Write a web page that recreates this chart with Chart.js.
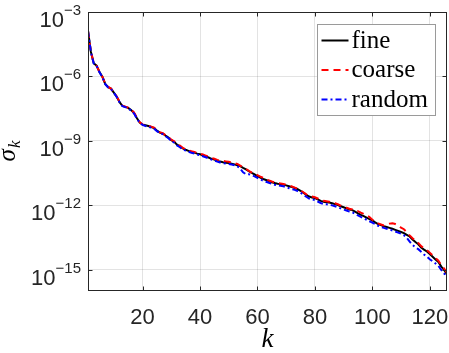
<!DOCTYPE html>
<html>
<head>
    <title>Singular values</title>
    <script src="https://cdn.jsdelivr.net/npm/chart.js"></script>
    <style>
        html, body { margin: 0; padding: 0; background: #fff; }
        canvas { display: block; }
    </style>
</head>
<body>
<canvas id="svChart" width="449" height="353"></canvas>

<script>
    // k = 1..126, values stored as log10(sigma_k)
    const kValues = [];
    for (let k = 1; k <= 126; k++) kValues.push(k);

    const fineLog = [
        -3.88, -4.85, -5.39, -5.50, -5.80, -6.02, -6.35, -6.50, -6.57, -6.76,
        -6.95, -7.20, -7.38, -7.42, -7.47, -7.57, -7.70, -7.94, -8.15, -8.25,
        -8.28, -8.31, -8.36, -8.41, -8.52, -8.62, -8.66, -8.76, -8.85, -8.97,
        -9.05, -9.18, -9.26, -9.36, -9.42, -9.47, -9.52, -9.55, -9.60, -9.63,
        -9.68, -9.73, -9.78, -9.84, -9.88, -9.93, -9.97, -10.00, -10.02, -10.04,
        -10.07, -10.10, -10.14, -10.18, -10.26, -10.33, -10.42, -10.50, -10.57, -10.65,
        -10.72, -10.78, -10.83, -10.88, -10.93, -10.97, -11.00, -11.02, -11.04, -11.08,
        -11.12, -11.16, -11.20, -11.26, -11.33, -11.42, -11.52, -11.60, -11.64, -11.67,
        -11.73, -11.80, -11.84, -11.86, -11.88, -11.91, -11.95, -12.00, -12.05, -12.10,
        -12.15, -12.20, -12.23, -12.30, -12.38, -12.45, -12.51, -12.58, -12.65, -12.71,
        -12.80, -12.88, -12.93, -12.98, -13.02, -13.06, -13.10, -13.15, -13.20, -13.25,
        -13.30, -13.38, -13.46, -13.60, -13.72, -13.82, -13.97, -14.07, -14.16, -14.28,
        -14.40, -14.53, -14.65, -14.86, -15.02, -15.23
    ];
    const coarseLog = [
        -3.88, -4.84, -5.38, -5.51, -5.79, -6.01, -6.34, -6.49, -6.57, -6.74,
        -6.94, -7.18, -7.36, -7.41, -7.46, -7.55, -7.68, -7.92, -8.13, -8.24,
        -8.26, -8.29, -8.34, -8.39, -8.50, -8.60, -8.64, -8.74, -8.83, -8.95,
        -9.02, -9.15, -9.23, -9.33, -9.39, -9.44, -9.49, -9.52, -9.57, -9.60,
        -9.64, -9.69, -9.74, -9.80, -9.84, -9.89, -9.93, -9.94, -9.96, -9.98,
        -10.01, -10.04, -10.08, -10.16, -10.24, -10.31, -10.40, -10.48, -10.52, -10.60,
        -10.67, -10.73, -10.80, -10.85, -10.90, -10.94, -10.97, -10.99, -11.01, -11.05,
        -11.09, -11.13, -11.18, -11.24, -11.31, -11.40, -11.50, -11.58, -11.60, -11.63,
        -11.69, -11.76, -11.80, -11.82, -11.84, -11.87, -11.91, -11.96, -12.02, -12.07,
        -12.12, -12.17, -12.20, -12.27, -12.28, -12.35, -12.41, -12.48, -12.55, -12.68,
        -12.77, -12.85, -12.90, -12.95, -12.90, -12.86, -12.84, -12.88, -12.95, -13.05,
        -13.12, -13.26, -13.41, -13.54, -13.66, -13.76, -13.91, -14.01, -14.10, -14.22,
        -14.34, -14.46, -14.59, -14.79, -14.96, -15.15
    ];
    const randomLog = [
        -3.88, -4.86, -5.40, -5.51, -5.81, -6.03, -6.36, -6.51, -6.58, -6.77,
        -6.96, -7.21, -7.39, -7.43, -7.49, -7.59, -7.72, -7.96, -8.16, -8.26,
        -8.31, -8.34, -8.39, -8.44, -8.55, -8.65, -8.69, -8.79, -8.88, -9.00,
        -9.09, -9.22, -9.30, -9.40, -9.46, -9.51, -9.56, -9.59, -9.64, -9.67,
        -9.72, -9.77, -9.82, -9.88, -9.92, -9.97, -10.01, -10.04, -10.06, -10.08,
        -10.11, -10.14, -10.19, -10.30, -10.47, -10.56, -10.56, -10.60, -10.66, -10.73,
        -10.80, -10.86, -10.91, -10.96, -11.01, -11.05, -11.08, -11.10, -11.12, -11.16,
        -11.21, -11.25, -11.29, -11.35, -11.42, -11.51, -11.61, -11.69, -11.73, -11.76,
        -11.83, -11.90, -11.94, -11.96, -11.98, -12.01, -12.05, -12.10, -12.15, -12.20,
        -12.25, -12.30, -12.33, -12.40, -12.48, -12.55, -12.61, -12.68, -12.75, -12.81,
        -12.88, -12.96, -13.01, -13.06, -13.10, -13.14, -13.18, -13.23, -13.28, -13.33,
        -13.40, -13.52, -13.70, -13.85, -13.97, -14.05, -14.17, -14.30, -14.40, -14.52,
        -14.62, -14.72, -14.83, -15.02, -15.18, -15.38
    ];

    const seriesNames = ['fine', 'coarse', 'random'];
    const xTicks = [20, 40, 60, 80, 100, 120];
    const yTickExps = [-3, -6, -9, -12, -15];

    const toPoints = logs => logs.map((v, i) => ({ x: kValues[i], y: Math.pow(10, v) }));

    const axisColor = '#262626';
    const sansFont = '"Liberation Sans", Arial, Helvetica, sans-serif';
    const serifFont = '"Liberation Serif", "Times New Roman", serif';

    const overlay = {
        id: 'overlay',
        afterDraw(chart) {
            const ctx = chart.ctx;
            const a = chart.chartArea;
            const xs = chart.scales.x, ys = chart.scales.y;
            const L = Math.round(a.left) + 0.5, R = Math.round(a.right) - 0.5;
            const T = Math.round(a.top) + 0.5, B = Math.round(a.bottom) - 0.5;
            ctx.save();

            // box and inward ticks
            ctx.strokeStyle = axisColor;
            ctx.lineWidth = 1;
            ctx.strokeRect(L, T, R - L, B - T);
            const tl = 4;
            ctx.beginPath();
            xTicks.forEach(v => {
                const x = Math.round(xs.getPixelForValue(v)) + 0.5;
                ctx.moveTo(x, B); ctx.lineTo(x, B - tl);
                ctx.moveTo(x, T); ctx.lineTo(x, T + tl);
            });
            yTickExps.forEach(e => {
                const y = Math.round(ys.getPixelForValue(Math.pow(10, e))) + 0.5;
                ctx.moveTo(L, y); ctx.lineTo(L + tl, y);
                ctx.moveTo(R, y); ctx.lineTo(R - tl, y);
            });
            ctx.stroke();

            // y tick labels 10^e
            ctx.fillStyle = axisColor;
            ctx.textBaseline = 'alphabetic';
            ctx.textAlign = 'left';
            yTickExps.forEach(e => {
                const y = ys.getPixelForValue(Math.pow(10, e));
                const sup = '\u2212' + String(-e);
                ctx.font = '15px ' + sansFont;
                const wSup = ctx.measureText(sup).width;
                ctx.font = '22px ' + sansFont;
                const wBase = ctx.measureText('10').width;
                const right = 81;
                ctx.fillText('10', right - wSup - wBase, y + 15);
                ctx.font = '15px ' + sansFont;
                ctx.fillText(sup, right - wSup, y + 3);
            });

            // y axis title sigma_k
            ctx.save();
            ctx.translate(15, (a.top + a.bottom) / 2);
            ctx.rotate(-Math.PI / 2);
            ctx.fillStyle = '#000';
            ctx.font = 'italic 25px ' + serifFont;
            const wS = ctx.measureText('\u03c3').width;
            ctx.font = 'italic 17px ' + serifFont;
            const wK = ctx.measureText('k').width;
            const start = -(wS + wK) / 2;
            ctx.font = 'italic 25px ' + serifFont;
            ctx.fillText('\u03c3', start, 0);
            ctx.font = 'italic 17px ' + serifFont;
            ctx.fillText('k', start + wS + 1, 5);
            ctx.restore();

            // legend box
            const bx = Math.round(a.right) - 12 - 118 + 0.5, by = Math.round(a.top) + 12 + 0.5;
            ctx.fillStyle = '#fff';
            ctx.fillRect(bx, by, 118, 91);
            ctx.strokeStyle = '#9a9a9a';
            ctx.strokeRect(bx, by, 118, 91);
            chart.data.datasets.forEach((ds, i) => {
                const ry = by + 16 + i * 29.5;
                ctx.beginPath();
                ctx.strokeStyle = ds.borderColor;
                ctx.lineWidth = ds.borderWidth;
                ctx.setLineDash(ds.borderDash || []);
                ctx.moveTo(bx + 4, ry);
                ctx.lineTo(bx + 31, ry);
                ctx.stroke();
                ctx.setLineDash([]);
                ctx.fillStyle = '#000';
                ctx.font = '25px ' + serifFont;
                ctx.fillText(ds.label, bx + 34, ry + 7);
            });
            ctx.restore();
        }
    };

    const ctx = document.getElementById('svChart').getContext('2d');
    const config = {
        type: 'line',
        data: {
            datasets: [
                {
                    label: seriesNames[0],
                    data: toPoints(fineLog),
                    borderColor: '#000000',
                    borderWidth: 2,
                    order: 2
                },
                {
                    label: seriesNames[1],
                    data: toPoints(coarseLog),
                    borderColor: '#ff0000',
                    borderWidth: 2,
                    borderDash: [7, 5],
                    order: 1
                },
                {
                    label: seriesNames[2],
                    data: toPoints(randomLog),
                    borderColor: '#0000ff',
                    borderWidth: 2,
                    borderDash: [6, 3, 2, 3],
                    order: 0
                }
            ]
        },
        options: {
            responsive: false,
            animation: false,
            devicePixelRatio: 1,
            layout: { padding: { top: 12, right: 2, left: 0, bottom: 0 } },
            elements: {
                point: { radius: 0 },
                line: { tension: 0, fill: false }
            },
            plugins: {
                legend: { display: false },
                tooltip: { enabled: false }
            },
            scales: {
                x: {
                    type: 'linear',
                    min: 1,
                    max: 126,
                    afterBuildTicks: s => { s.ticks = xTicks.map(v => ({ value: v })); },
                    afterFit: s => {
                        s.height = 62;
                        s.paddingLeft = 0;
                        s.paddingRight = 0;
                    },
                    grid: { color: 'rgba(38,38,38,0.13)', drawTicks: false },
                    border: { display: false },
                    ticks: {
                        autoSkip: false,
                        maxRotation: 0,
                        padding: 14,
                        color: axisColor,
                        font: { family: sansFont, size: 22 },
                        callback: v => String(v)
                    },
                    title: {
                        display: true,
                        text: 'k',
                        color: '#000',
                        padding: 0,
                        font: { family: serifFont, style: 'italic', size: 27, lineHeight: 1 }
                    }
                },
                y: {
                    type: 'logarithmic',
                    min: 1e-16,
                    max: 1e-3,
                    afterBuildTicks: s => { s.ticks = yTickExps.map(e => ({ value: Math.pow(10, e) })); },
                    afterFit: s => {
                        s.width = 88;
                        s.paddingTop = 0;
                        s.paddingBottom = 0;
                    },
                    grid: { color: 'rgba(38,38,38,0.13)', drawTicks: false },
                    border: { display: false },
                    ticks: { display: false }
                }
            }
        },
        plugins: [overlay]
    };
    const svChart = new Chart(ctx, config);
</script>
</body>
</html>
